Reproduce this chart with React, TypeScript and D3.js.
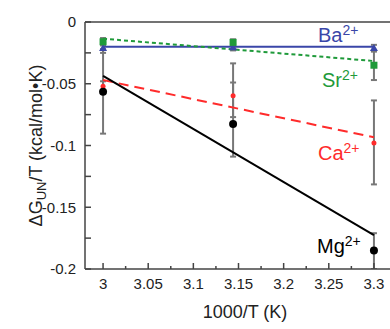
import React from 'react';
import * as d3 from 'd3';

// inverse temperature, 1000/T (K)
const invT = [3.0, 3.144, 3.3];

// measured points per ion
const baValues = [-0.021, -0.0205, -0.021];
const srValues = [-0.016, -0.0165, -0.035];
const caValues = [-0.052, -0.0597, -0.098];
const mgValues = [-0.0564, -0.0826, -0.185];

// error bar ranges [low, high]
const baErrors = [[-0.025, -0.017], [-0.023, -0.018], [-0.024, -0.0185]];
const srErrors = [[-0.019, -0.013], [-0.019, -0.014], [-0.047, -0.023]];
const caErrors = [[-0.056, -0.048], [-0.077, -0.0335], [-0.1315, -0.0635]];
const mgErrors = [[-0.0904, -0.022], [-0.109, -0.049], [-0.2, -0.171]];

// linear fits, evaluated at the ends of the range
const fitX = [3.0, 3.3];
const baFit = [-0.0201, -0.0201];
const srFit = [-0.0135, -0.0316];
const caFit = [-0.047, -0.0934];
const mgFit = [-0.0437, -0.1725];

const xTicks = [3, 3.05, 3.1, 3.15, 3.2, 3.25, 3.3];
const xMinor = [3.025, 3.075, 3.125, 3.175, 3.225, 3.275];
const yTicks = [0, -0.05, -0.1, -0.15, -0.2];
const yMinor = [-0.025, -0.075, -0.125, -0.175];

const W = 390;
const H = 329;
const left = 85;
const top = 22;
const bottom = 269;

const font = "Liberation Sans, Arial, sans-serif";

const App = () => {
  const x = d3.scaleLinear().domain([2.98, 3.32]).range([left, 392]);
  const y = d3.scaleLinear().domain([-0.2, 0]).range([bottom, top]);

  const line = d3.line<number>()
    .x((d, i) => x(fitX[i]))
    .y(d => y(d));

  const series = [
    { name: 'Ba', values: baValues, errors: baErrors, fit: baFit, color: '#3a46a8', dash: null, marker: 'tri' },
    { name: 'Sr', values: srValues, errors: srErrors, fit: srFit, color: '#1f9a3a', dash: '4,3', marker: 'sq' },
    { name: 'Ca', values: caValues, errors: caErrors, fit: caFit, color: '#ff2b2b', dash: '10,6', marker: 'dot' },
    { name: 'Mg', values: mgValues, errors: mgErrors, fit: mgFit, color: '#000000', dash: null, marker: 'big' },
  ];

  const fmt = (v: number) => v === 0 ? '0' : String(v);

  return (
    <svg width={W} height={H} style={{ position: 'absolute', left: 0, top: 0, background: '#fff' }} fontFamily={font}>
      <defs>
        <clipPath id="plot">
          <rect x={left} y={top} width={W - left} height={bottom - top} />
        </clipPath>
      </defs>

      {/* error bars */}
      <g stroke="#777" strokeWidth={2} clipPath="url(#plot)">
        {series.map(s => s.errors.map((e, i) => (
          <g key={s.name + i}>
            <line x1={x(invT[i])} x2={x(invT[i])} y1={y(e[0])} y2={y(e[1])} />
            <line x1={x(invT[i]) - 3} x2={x(invT[i]) + 3} y1={y(e[0])} y2={y(e[0])} />
            <line x1={x(invT[i]) - 3} x2={x(invT[i]) + 3} y1={y(e[1])} y2={y(e[1])} />
          </g>
        )))}
      </g>

      {/* fit lines */}
      {series.map(s => (
        <path key={s.name} d={line(s.fit) || ''} fill="none" stroke={s.color}
          strokeWidth={2} strokeDasharray={s.dash || undefined} />
      ))}

      {/* markers */}
      {series.map(s => s.values.map((v, i) => {
        const cx = x(invT[i]);
        const cy = y(v);
        if (s.marker === 'tri') {
          return <path key={s.name + i} d={`M${cx},${cy - 4}L${cx + 4},${cy + 3}L${cx - 4},${cy + 3}Z`} fill={s.color} />;
        }
        if (s.marker === 'sq') {
          return <rect key={s.name + i} x={cx - 3.5} y={cy - 3.5} width={7} height={7} fill={s.color} />;
        }
        return <circle key={s.name + i} cx={cx} cy={cy} r={s.marker === 'big' ? 4 : 2.5} fill={s.color} />;
      }))}

      {/* frame */}
      <g stroke="#444" strokeWidth={1.5} fill="none">
        <line x1={left} x2={W} y1={top} y2={top} />
        <line x1={left} x2={left} y1={top} y2={bottom} />
        <line x1={left} x2={W} y1={bottom} y2={bottom} />
      </g>

      {/* ticks */}
      <g stroke="#444" strokeWidth={1.5}>
        {xTicks.map(t => <line key={'xt' + t} x1={x(t)} x2={x(t)} y1={bottom} y2={bottom - 6} />)}
        {xMinor.map(t => <line key={'xm' + t} x1={x(t)} x2={x(t)} y1={bottom} y2={bottom - 3} />)}
        {yTicks.map(t => <line key={'yt' + t} x1={left} x2={left + 6} y1={y(t)} y2={y(t)} />)}
        {yMinor.map(t => <line key={'ym' + t} x1={left} x2={left + 6} y1={y(t)} y2={y(t)} />)}
      </g>

      {/* tick labels */}
      <g fontSize={15} fill="#222">
        {xTicks.map(t => (
          <text key={'xl' + t} x={x(t)} y={289} textAnchor="middle">{String(t)}</text>
        ))}
        {yTicks.map(t => (
          <text key={'yl' + t} x={76} y={y(t)} dy="0.35em" textAnchor="end">{fmt(t)}</text>
        ))}
      </g>

      {/* axis titles */}
      <text x={245} y={318} textAnchor="middle" fontSize={18} fill="#222">1000/T (K)</text>
      <text transform={`translate(42, ${(top + bottom) / 2}) rotate(-90)`} textAnchor="middle" fontSize={18} fill="#222">
        ΔG<tspan fontSize={13} dy={4}>UN</tspan><tspan dy={-4}>/T (kcal/mol•K)</tspan>
      </text>

      {/* ion labels */}
      <g fontSize={20}>
        <text x={318} y={42} fill="#3a46a8">Ba<tspan fontSize={14} dy={-7}>2+</tspan></text>
        <text x={322} y={87} fill="#1f9a3a">Sr<tspan fontSize={14} dy={-7}>2+</tspan></text>
        <text x={318} y={160} fill="#ff2b2b">Ca<tspan fontSize={14} dy={-7}>2+</tspan></text>
        <text x={317} y={253} fill="#000">Mg<tspan fontSize={14} dy={-7}>2+</tspan></text>
      </g>
    </svg>
  );
};

export default App;
